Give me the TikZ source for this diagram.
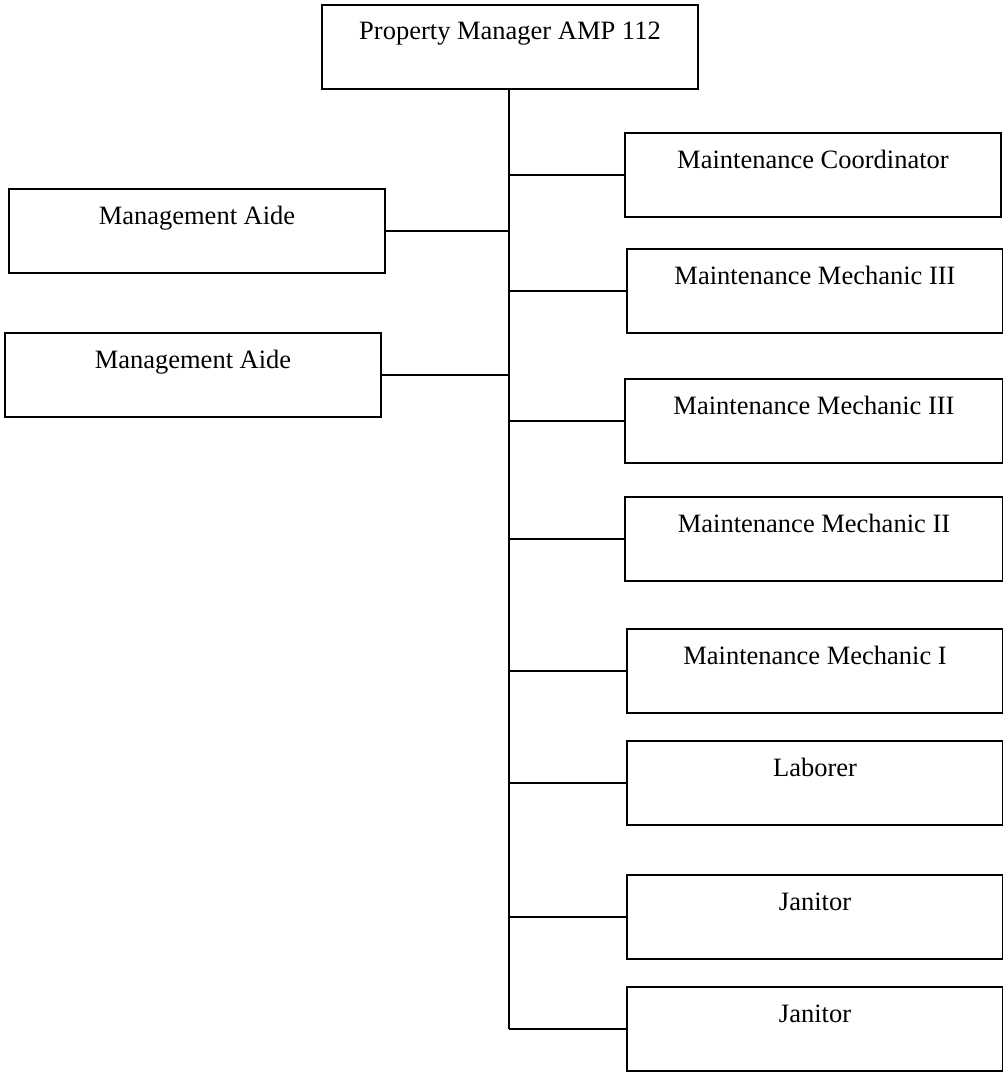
\documentclass[tikz,border=0pt]{standalone}
\usepackage{fontspec}
\setmainfont{Liberation Serif}
\begin{document}
\begin{tikzpicture}[x=1pt,y=-1pt,
  orgbox/.style={draw, line width=2pt, inner sep=0pt, anchor=north west,
    minimum width=#1, text height=35pt, text depth=49pt,
    font=\fontsize{26.5}{30}\selectfont},
  link/.style={line width=2pt}]
\useasboundingbox (0,0) rectangle (1003,1073);

% head of the chart
\node[orgbox=376pt] (boss) at (321,4) {Property Manager AMP 112};

% office staff on the left
\node[orgbox=376pt] (aide1) at (8,188) {Management Aide};
\node[orgbox=376pt] (aide2) at (4,332) {Management Aide};

% maintenance staff on the right
\node[orgbox=376pt] (coord) at (624,132) {Maintenance Coordinator};
\node[orgbox=376pt] (mech3a) at (626,248) {Maintenance Mechanic III};
\node[orgbox=378pt] (mech3b) at (624,378) {Maintenance Mechanic III};
\node[orgbox=378pt] (mech2) at (624,496) {Maintenance Mechanic II};
\node[orgbox=376pt] (mech1) at (626,628) {Maintenance Mechanic I};
\node[orgbox=376pt] (labor) at (626,740) {Laborer};
\node[orgbox=376pt] (jan1) at (626,874) {Janitor};
\node[orgbox=376pt] (jan2) at (626,986) {Janitor};

% trunk line down from the head
\coordinate (trunk) at (509,88);
\draw[link] (trunk) -- (jan2.west -| trunk);

% branches to the left
\foreach \n in {aide1,aide2}
  \draw[link] (\n.east) -- (\n.east -| trunk);

% branches to the right
\foreach \n in {coord,mech3a,mech3b,mech2,mech1,labor,jan1,jan2}
  \draw[link] (\n.west) -- (\n.west -| trunk);
\end{tikzpicture}
\end{document}
